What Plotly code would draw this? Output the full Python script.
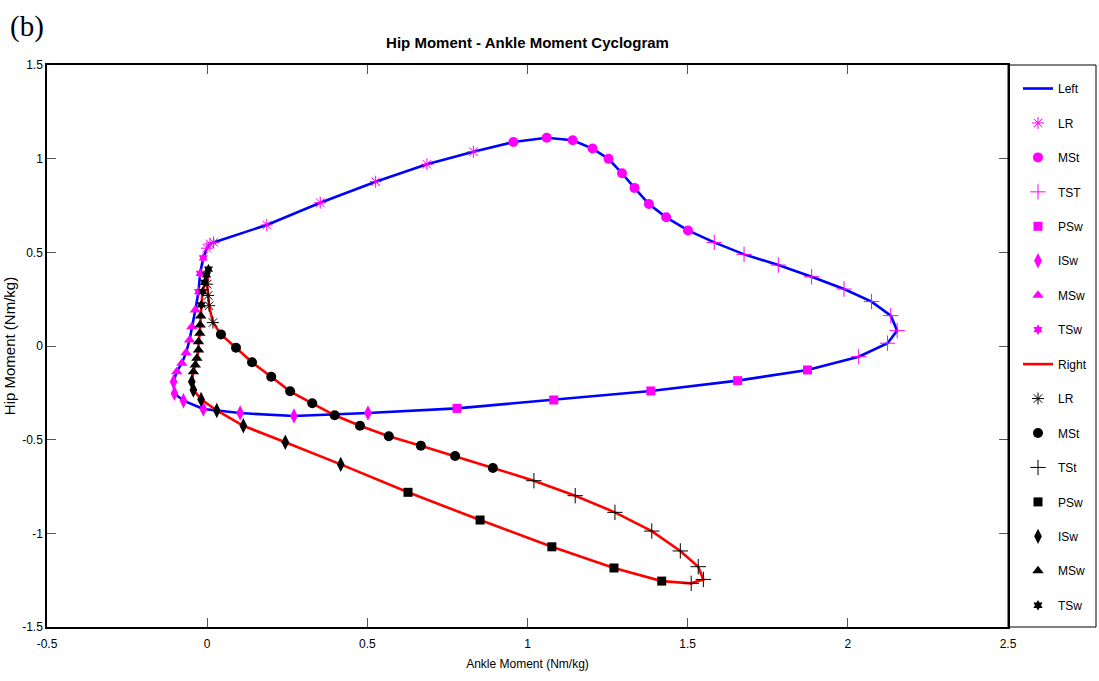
import plotly.graph_objects as go

# Gait phases shown on both cyclograms
phases = ["LR", "MSt", "TST", "PSw", "ISw", "MSw", "TSw"]
right_phase_names = ["LR", "MSt", "TSt", "PSw", "ISw", "MSw", "TSw"]

# ---- Left limb: ankle moment (x) and hip moment (y), Nm/kg ----
left_lr_x = [-0.001, 0.009, 0.020, 0.186, 0.353, 0.526, 0.686, 0.831]
left_lr_y = [0.522, 0.545, 0.553, 0.646, 0.765, 0.877, 0.970, 1.037]
left_mst_x = [0.956, 1.060, 1.141, 1.203, 1.253, 1.295, 1.334, 1.379, 1.433, 1.501]
left_mst_y = [1.089, 1.112, 1.098, 1.054, 0.999, 0.922, 0.844, 0.758, 0.687, 0.617]
left_tst_x = [1.583, 1.676, 1.783, 1.887, 1.988, 2.074, 2.134, 2.154, 2.124, 2.034]
left_tst_y = [0.553, 0.489, 0.432, 0.370, 0.304, 0.237, 0.162, 0.082, 0.015, -0.057]
left_psw_x = [1.874, 1.656, 1.385, 1.082, 0.780]
left_psw_y = [-0.128, -0.185, -0.240, -0.288, -0.333]
left_isw_x = [0.502, 0.271, 0.103, -0.012, -0.074, -0.102, -0.105]
left_isw_y = [-0.358, -0.374, -0.358, -0.336, -0.292, -0.253, -0.191]
left_msw_x = [-0.095, -0.079, -0.066, -0.055, -0.048, -0.037]
left_msw_y = [-0.137, -0.092, -0.036, 0.032, 0.103, 0.192]
left_tsw_x = [-0.027, -0.022, -0.012]
left_tsw_y = [0.290, 0.388, 0.470]

# ---- Right limb ----
right_lr_x = [0.000, 0.003, 0.006, 0.018]
right_lr_y = [0.330, 0.270, 0.215, 0.125]
right_mst_x = [0.043, 0.090, 0.140, 0.200, 0.259, 0.328, 0.398, 0.477, 0.567, 0.667, 0.774, 0.892]
right_mst_y = [0.062, -0.009, -0.087, -0.164, -0.242, -0.306, -0.370, -0.426, -0.482, -0.532, -0.587, -0.651]
right_tst_x = [1.020, 1.149, 1.273, 1.388, 1.477, 1.533, 1.549, 1.511]
right_tst_y = [-0.719, -0.799, -0.888, -0.988, -1.094, -1.178, -1.246, -1.267]
right_psw_x = [1.419, 1.270, 1.076, 0.852, 0.627]
right_psw_y = [-1.255, -1.185, -1.072, -0.929, -0.781]
right_isw_x = [0.417, 0.244, 0.113, 0.030, -0.019, -0.043, -0.048]
right_isw_y = [-0.632, -0.514, -0.426, -0.344, -0.285, -0.235, -0.191]
right_msw_x = [-0.043, -0.037, -0.032, -0.027, -0.027, -0.023, -0.022, -0.020]
right_msw_y = [-0.137, -0.101, -0.066, -0.021, 0.023, 0.068, 0.112, 0.160]
right_tsw_x = [-0.018, -0.014, -0.008, -0.002, 0.004]
right_tsw_y = [0.220, 0.290, 0.340, 0.380, 0.410]

# Axis ticks
x_ticks = [-0.5, 0, 0.5, 1, 1.5, 2, 2.5]
x_tick_text = ["-0.5", "0", "0.5", "1", "1.5", "2", "2.5"]
y_ticks = [-1.5, -1, -0.5, 0, 0.5, 1, 1.5]
y_tick_text = ["-1.5", "-1", "-0.5", "0", "0.5", "1", "1.5"]

left_phase_data = [
    (left_lr_x, left_lr_y), (left_mst_x, left_mst_y), (left_tst_x, left_tst_y),
    (left_psw_x, left_psw_y), (left_isw_x, left_isw_y), (left_msw_x, left_msw_y),
    (left_tsw_x, left_tsw_y),
]
right_phase_data = [
    (right_lr_x, right_lr_y), (right_mst_x, right_mst_y), (right_tst_x, right_tst_y),
    (right_psw_x, right_psw_y), (right_isw_x, right_isw_y), (right_msw_x, right_msw_y),
    (right_tsw_x, right_tsw_y),
]

# Marker style per phase: (symbol, size, is_line_symbol)
phase_styles = [
    ("asterisk-open", 10, True),
    ("circle", 10, False),
    ("cross-thin-open", 11, True),
    ("square", 9, False),
    ("diamond-tall", 11, False),
    ("triangle-up", 10, False),
    ("hexagram", 8, False),
]

FONT = "Liberation Sans, Arial, sans-serif"
fig = go.Figure()


def add_limb(name, phase_data, phase_names, line_color, marker_color, group_prefix):
    xs, ys = [], []
    for px, py in phase_data:
        xs.extend(px)
        ys.extend(py)
    # close the gait cycle
    xs.append(phase_data[0][0][0])
    ys.append(phase_data[0][1][0])
    fig.add_trace(go.Scatter(
        x=xs, y=ys, mode="lines", name=name,
        line=dict(color=line_color, width=2.6),
        legendgroup=group_prefix + "line",
    ))
    for (px, py), label, (sym, size, is_line) in zip(phase_data, phase_names, phase_styles):
        if is_line:
            marker = dict(symbol=sym, size=size, color=marker_color,
                          line=dict(color=marker_color, width=1))
        else:
            marker = dict(symbol=sym, size=size, color=marker_color,
                          line=dict(width=0))
        fig.add_trace(go.Scatter(
            x=px, y=py, mode="markers", name=label, marker=marker,
            legendgroup=group_prefix + label,
        ))


add_limb("Left", left_phase_data, phases, "#0000ff", "#ff00ff", "L")
add_limb("Right", right_phase_data, right_phase_names, "#ff0000", "#000000", "R")

axis_common = dict(
    showline=True, linecolor="black", linewidth=1.5, mirror="ticks",
    ticks="inside", ticklen=9, tickcolor="#555555", tickwidth=1,
    showgrid=False, zeroline=False,
    tickfont=dict(family=FONT, size=12, color="black"),
)

# Plot area in pixels: x 47..1008, y 65..627
PLOT_W, PLOT_H = 961, 562

fig.update_layout(
    width=1099, height=681,
    margin=dict(l=47, r=91, t=65, b=54, autoexpand=False),
    paper_bgcolor="white", plot_bgcolor="white",
    title=dict(
        text="<b>Hip Moment - Ankle Moment Cyclogram</b>",
        font=dict(family=FONT, size=15, color="black"),
        x=0.5, xref="paper", xanchor="center",
        y=1 - 43 / 681, yanchor="middle",
    ),
    xaxis=dict(
        range=[-0.5, 2.5], tickvals=x_ticks, ticktext=x_tick_text,
        ticklabelstandoff=5,
        title=dict(text="Ankle Moment (Nm/kg)", font=dict(family=FONT, size=12, color="black"), standoff=9),
        **axis_common,
    ),
    yaxis=dict(
        range=[-1.5, 1.5], tickvals=y_ticks, ticktext=y_tick_text,
        title=dict(text="Hip Moment (Nm/kg)", font=dict(family=FONT, size=15, color="black"), standoff=3),
        **axis_common,
    ),
    legend=dict(
        x=1 + 10 / PLOT_W, xanchor="left", y=1 - 9 / PLOT_H, yanchor="top",
        bordercolor="rgba(0,0,0,0)", borderwidth=0, bgcolor="rgba(0,0,0,0)",
        font=dict(family=FONT, size=12, color="black"),
        tracegroupgap=15.45, itemwidth=30,
    ),
    showlegend=True,
    shapes=[
        # frame around the legend column, flush with the plot area
        dict(type="rect", xref="paper", yref="paper",
             x0=1, x1=1 + 88 / PLOT_W, y0=0, y1=1,
             line=dict(color="black", width=1), fillcolor="rgba(0,0,0,0)"),
    ],
    annotations=[
        dict(text="(b)", x=-39 / PLOT_W, y=1 + 57 / PLOT_H, xref="paper", yref="paper",
             xanchor="left", yanchor="top", showarrow=False,
             font=dict(family="Liberation Serif, Times New Roman, serif", size=29, color="black")),
    ],
)

fig.write_html("out.html")
